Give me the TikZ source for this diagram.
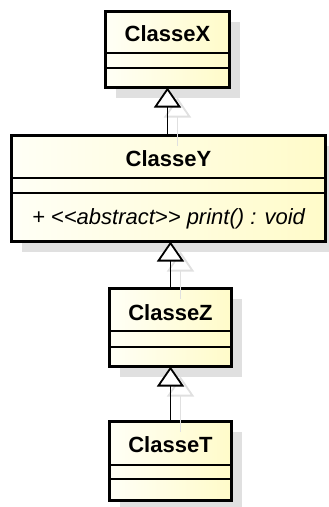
\documentclass[tikz,border=0pt]{standalone}
\usepackage{fontspec}
\setmainfont{Liberation Sans}
\usetikzlibrary{arrows.meta,backgrounds}
\definecolor{classfillA}{HTML}{FFFFF6}
\definecolor{classfillB}{HTML}{FFFBC9}
\tikzset{
	classbox/.style={draw,line width=2.8pt,left color=classfillA,right color=classfillB,
		anchor=north west,inner sep=0pt,outer sep=0pt},
	classshadow/.style={fill=black!12},
	compart/.style={line width=1.4pt},
	classname/.style={font=\fontsize{22}{26}\selectfont\bfseries,anchor=base,inner sep=0pt},
	oper/.style={font=\fontsize{22}{26}\selectfont\itshape,anchor=base,inner sep=0pt},
	inherit/.style={line width=1.8pt,-{Triangle[open,fill=white,length=20pt,width=27pt]}},
	inheritshadow/.style={inherit,draw=black!12}
}
\begin{document}
\begin{tikzpicture}[x=1pt,y=-1pt]
	\useasboundingbox(0,0)rectangle(329,507);
	% class boxes
	\node[classbox,minimum width=124pt,minimum height=76pt] (X) at (105.5,11.5) {};
	\node[classbox,minimum width=314pt,minimum height=106pt] (Y) at (11.5,135.5) {};
	\node[classbox,minimum width=122pt,minimum height=78pt] (Z) at (109.5,288.5) {};
	\node[classbox,minimum width=122pt,minimum height=79pt] (T) at (109.5,421.5) {};
	% shadows behind the boxes
	\begin{scope}[on background layer]
	\foreach \c in {X,Y,Z,T}
		\fill[classshadow] ([shift={(10,10)}]\c.north west)rectangle([shift={(10,10)}]\c.south east);
	\end{scope}
	% compartments
	\draw[compart](X.west |- 0,53)--(X.east |- 0,53);
	\draw[compart](X.west |- 0,68)--(X.east |- 0,68);
	\draw[compart](Y.west |- 0,178)--(Y.east |- 0,178);
	\draw[compart](Y.west |- 0,193)--(Y.east |- 0,193);
	\draw[compart](Z.west |- 0,331)--(Z.east |- 0,331);
	\draw[compart](Z.west |- 0,347)--(Z.east |- 0,347);
	\draw[compart](T.west |- 0,465)--(T.east |- 0,465);
	\draw[compart](T.west |- 0,479)--(T.east |- 0,479);
	% names and operation
	\node[classname] (Xname) at (X.center |- 0,41.5) {ClasseX};
	\node[classname] (Yname) at (Y.center |- 0,166.5) {ClasseY};
	\node[oper] (Yop) at (Y.center |- 0,224.5) {+ <{}<abstract>{}> print() : void};
	\node[classname] (Zname) at (Z.center |- 0,320) {ClasseZ};
	\node[classname] (Tname) at (T.center |- 0,452.5) {ClasseT};
	% generalizations
	\coordinate (YX) at (Y.north -| X.south);
	\coordinate (ZY) at (Z.north |- Y.south);
	\coordinate (TZ) at (T.north |- Z.south);
	\draw[inheritshadow]([shift={(10,10)}]YX)--([shift={(10,10)}]X.south);
	\draw[inheritshadow]([shift={(10,10)}]Z.north)--([shift={(10,10)}]ZY);
	\draw[inheritshadow]([shift={(10,10)}]T.north)--([shift={(10,10)}]TZ);
	\draw[inherit](YX)--(X.south);
	\draw[inherit](Z.north)--(ZY);
	\draw[inherit](T.north)--(TZ);
\end{tikzpicture}
\end{document}
